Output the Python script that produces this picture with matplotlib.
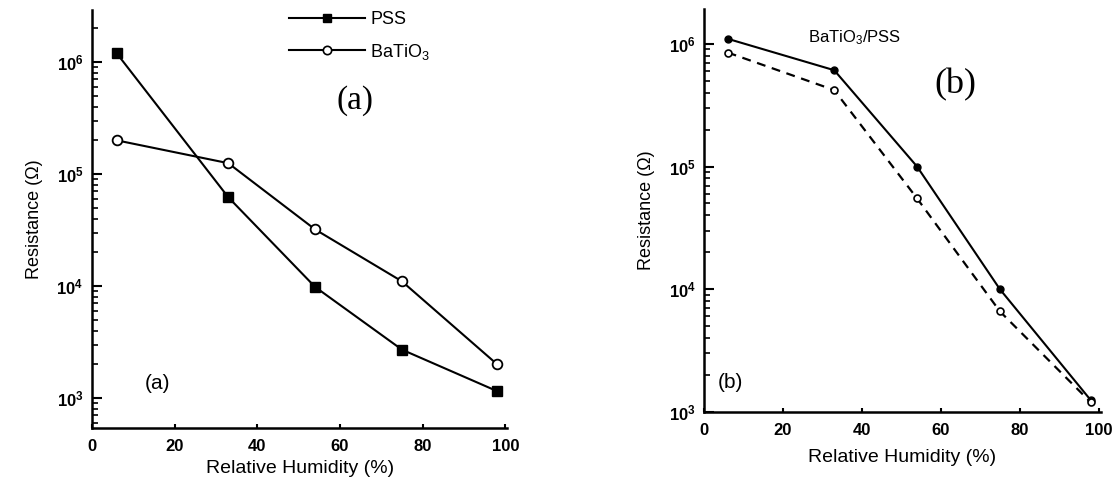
import matplotlib
matplotlib.use('Agg')
import matplotlib.pyplot as plt
from matplotlib.lines import Line2D
from matplotlib.ticker import LogLocator, NullFormatter

plt.rcParams['font.family'] = ['Liberation Sans', 'DejaVu Sans']
plt.rcParams['mathtext.default'] = 'regular'

# relative humidity of the test points (%)
humidity = [6, 33, 54, 75, 98]

# (a) single films
res_pss = [1.2e6, 6.2e4, 9.8e3, 2.7e3, 1.15e3]
res_batio3 = [2.0e5, 1.25e5, 3.2e4, 1.1e4, 2.0e3]

# (b) BaTiO3/PSS composite, two runs
res_comp_solid = [1.1e6, 6.1e5, 1.0e5, 1.0e4, 1.25e3]
res_comp_dashed = [8.5e5, 4.2e5, 5.5e4, 6.6e3, 1.2e3]

x_ticks = [0, 20, 40, 60, 80, 100]


def style_axis(ax):
    ax.set_yscale('log')
    for side in ['top', 'right']:
        ax.spines[side].set_visible(False)
    for side in ['left', 'bottom']:
        ax.spines[side].set_linewidth(1.8)
    ax.set_xticks(x_ticks)
    ax.yaxis.set_minor_locator(LogLocator(base=10, subs=range(2, 10)))
    ax.yaxis.set_minor_formatter(NullFormatter())
    ax.tick_params(which='major', direction='in', length=7, width=1.5,
                   labelsize=12, pad=6)
    ax.tick_params(which='minor', direction='in', length=4, width=1.2)
    ax.tick_params(axis='x', which='major', length=3, pad=8)
    for lab in ax.get_xticklabels() + ax.get_yticklabels():
        lab.set_fontweight('bold')


fig = plt.figure(figsize=(11.2, 4.91), dpi=100)

# ---- panel (a)
ax1 = fig.add_axes([0.082, 0.128, 0.371, 0.851])
ax1.plot(humidity, res_pss, color='black', lw=1.5, marker='s', ms=7,
         mfc='black', mec='black')
ax1.plot(humidity, res_batio3, color='black', lw=1.5, marker='o', ms=7,
         mfc='white', mec='black', mew=1.3)
ax1.set_xlim(0, 100.5)
ax1.set_ylim(537, 2.9e6)
style_axis(ax1)
ax1.set_xlabel('Relative Humidity (%)', fontsize=14, labelpad=4)
ax1.set_ylabel('Resistance (Ω)', fontsize=13, labelpad=10)

handles = [
    Line2D([], [], color='black', lw=1.5, marker='s', ms=6, mfc='black'),
    Line2D([], [], color='black', lw=1.5, marker='o', ms=6, mfc='white', mew=1.2),
]
ax1.legend(handles, ['PSS', 'BaTiO$_3$'], loc='upper left',
           bbox_to_anchor=(0.475, 0.998), frameon=False, fontsize=13,
           handlelength=4.2, handletextpad=0.3, labelspacing=0.75,
           borderpad=0, borderaxespad=0)
ax1.text(0.634, 0.785, '(a)', transform=ax1.transAxes, fontsize=24,
         family='Liberation Serif', ha='center', va='center')
ax1.text(0.159, 0.108, '(a)', transform=ax1.transAxes, fontsize=15,
         ha='center', va='center')

# ---- panel (b)
ax2 = fig.add_axes([0.6286, 0.161, 0.354, 0.821])
ax2.plot(humidity, res_comp_solid, color='black', lw=1.5, marker='o', ms=5,
         mfc='black', mec='black')
ax2.plot(humidity, res_comp_dashed, color='black', lw=1.6, ls=(0, (4, 3)),
         marker='o', ms=5, mfc='white', mec='black', mew=1.2)
ax2.set_xlim(0, 100.5)
ax2.set_ylim(1e3, 1.93e6)
style_axis(ax2)
ax2.set_xlabel('Relative Humidity (%)', fontsize=14, labelpad=8)
ax2.set_ylabel('Resistance (Ω)', fontsize=13, labelpad=10)
ax2.text(0.381, 0.928, 'BaTiO$_3$/PSS', transform=ax2.transAxes, fontsize=12,
         ha='center', va='center')
ax2.text(0.634, 0.811, '(b)', transform=ax2.transAxes, fontsize=26,
         family='Liberation Serif', ha='center', va='center')
ax2.text(0.066, 0.072, '(b)', transform=ax2.transAxes, fontsize=15,
         ha='center', va='center')

fig.savefig('out.png', dpi=100)
